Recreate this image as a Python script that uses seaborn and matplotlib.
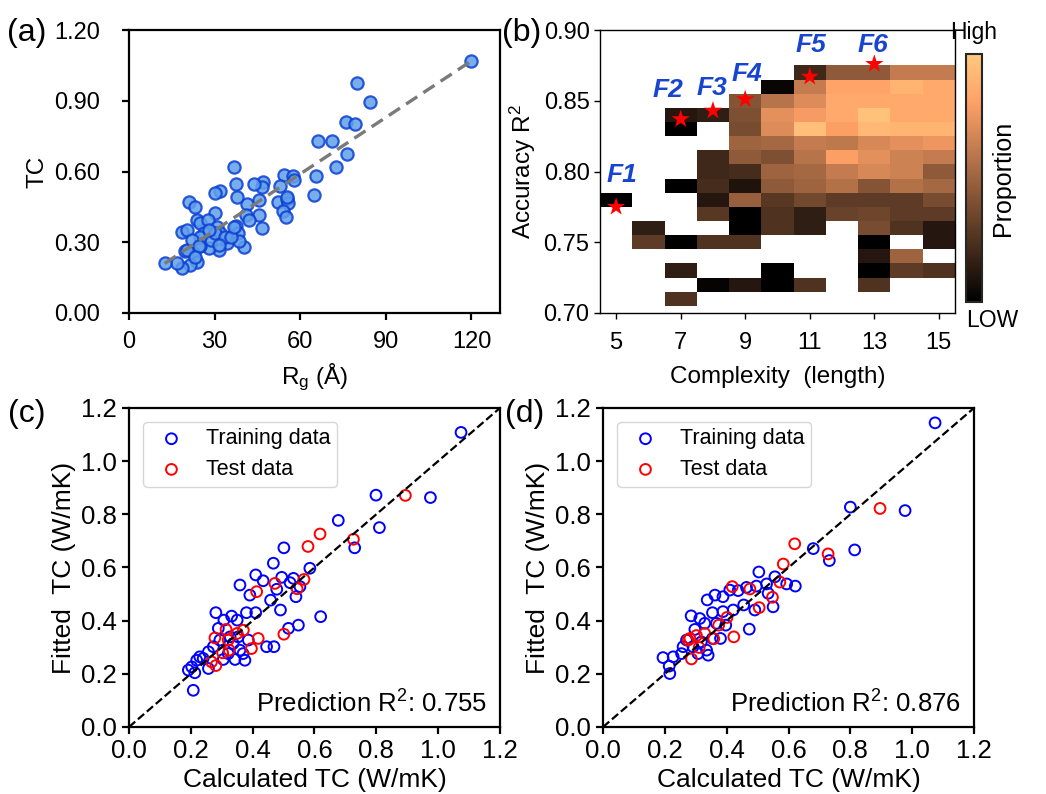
import numpy as np
import pandas as pd
import seaborn as sns
import matplotlib
matplotlib.use("Agg")
import matplotlib.pyplot as plt

sns.set_theme(style="ticks")
plt.rcParams['font.family'] = ['Liberation Sans', 'DejaVu Sans']
plt.rcParams['mathtext.fontset'] = 'custom'
plt.rcParams['mathtext.rm'] = 'Liberation Sans'
plt.rcParams['mathtext.it'] = 'Liberation Sans:italic'
plt.rcParams['text.color'] = 'black'
plt.rcParams['axes.labelcolor'] = 'black'
plt.rcParams['xtick.color'] = 'black'
plt.rcParams['ytick.color'] = 'black'

# (a) TC vs radius of gyration
rg = [119.8, 79.9, 84.3, 76.1, 79.3, 66.2, 71.0, 76.4, 72.6, 65.6, 65.0, 54.2, 57.6, 57.8,
      52.9, 52.3, 55.5, 55.7, 54.1, 54.9, 55.5, 46.8, 46.5, 43.8, 45.5, 45.7, 46.7, 41.4,
      41.0, 41.9, 40.2, 36.7, 37.4, 38.0, 37.5, 38.2, 38.5, 32.0, 30.0, 30.0, 20.9, 23.2,
      18.5, 20.3, 23.8, 25.0, 27.8, 30.8, 32.0, 34.4, 31.4, 27.9, 25.0, 22.6, 19.7, 23.8,
      21.5, 18.5, 16.8, 12.7, 20.3, 26.3, 28.6, 25.0, 22.0, 30.0, 33.5, 35.8, 27.9, 24.4,
      23.2, 36.7, 31.4]
tc = [1.069, 0.975, 0.896, 0.81, 0.80, 0.731, 0.728, 0.676, 0.62, 0.58, 0.499, 0.586, 0.582,
      0.563, 0.539, 0.47, 0.483, 0.468, 0.431, 0.408, 0.49, 0.556, 0.535, 0.545, 0.479, 0.414,
      0.359, 0.462, 0.415, 0.394, 0.279, 0.621, 0.546, 0.49, 0.37, 0.338, 0.307, 0.517, 0.507,
      0.425, 0.472, 0.45, 0.345, 0.352, 0.394, 0.38, 0.394, 0.366, 0.338, 0.296, 0.268, 0.275,
      0.282, 0.254, 0.261, 0.218, 0.204, 0.19, 0.211, 0.211, 0.268, 0.338, 0.31, 0.324, 0.31,
      0.338, 0.324, 0.324, 0.352, 0.282, 0.239, 0.366, 0.289]
fit_x = [12.5, 119.5]
fit_y = [0.21, 1.065]

# (b) accuracy vs complexity map
complexity = [5, 6, 7, 8, 9, 10, 11, 12, 13, 14, 15]
accuracy = [0.87, 0.86, 0.85, 0.84, 0.83, 0.82, 0.81, 0.80, 0.79, 0.78, 0.77, 0.76, 0.75,
            0.74, 0.73, 0.72, 0.71]
N = None
proportion = [
    [N, N, N, N, N, N, 0.2, 0.45, 0.45, 0.62, 0.62],
    [N, N, N, N, N, 0.03, 0.62, 0.82, 0.82, 0.9, 0.85],
    [N, N, N, N, 0.42, 0.58, 0.7, 0.85, 0.85, 0.85, 0.85],
    [N, N, 0.12, 0.15, 0.4, 0.72, 0.78, 0.85, 0.97, 0.85, 0.85],
    [N, N, 0.0, N, 0.38, 0.7, 0.95, 0.8, 0.92, 0.9, 0.9],
    [N, N, N, N, 0.5, 0.52, 0.62, 0.6, 0.68, 0.72, 0.75],
    [N, N, N, 0.2, 0.45, 0.4, 0.58, 0.8, 0.72, 0.65, 0.62],
    [N, N, N, 0.2, 0.22, 0.5, 0.52, 0.62, 0.68, 0.65, 0.45],
    [N, N, 0.0, 0.22, 0.1, 0.45, 0.5, 0.57, 0.42, 0.57, 0.52],
    [0.0, N, N, 0.12, 0.48, 0.28, 0.36, 0.3, 0.3, 0.3, 0.38],
    [N, N, N, 0.28, 0.0, 0.25, 0.15, 0.33, 0.35, 0.3, 0.3],
    [N, 0.15, N, N, 0.0, 0.25, 0.15, N, 0.38, 0.25, 0.12],
    [N, 0.3, 0.0, 0.25, 0.25, N, N, N, 0.0, N, 0.12],
    [N, N, N, N, N, N, N, N, 0.12, 0.5, N],
    [N, N, 0.15, N, N, 0.0, N, N, 0.0, 0.3, 0.25],
    [N, N, N, 0.02, 0.12, 0.0, 0.25, N, 0.25, N, N],
    [N, N, 0.25, N, N, N, N, N, N, N, N],
]
front_names = ["F1", "F2", "F3", "F4", "F5", "F6"]
front_len = [5, 7, 8, 9, 11, 13]
front_r2 = [0.775, 0.837, 0.843, 0.851, 0.867, 0.876]
front_offsets = [(4, 23), (-9, 21), (-1, 16), (1, 18), (1, 23), (-1, 14)]

# (c) first model
c_train_x = [1.074, 0.799, 0.975, 0.677, 0.81, 0.501, 0.73, 0.467, 0.585, 0.41, 0.434, 0.359,
             0.494, 0.532, 0.521, 0.553, 0.478, 0.391, 0.54, 0.458, 0.49, 0.62, 0.41, 0.38,
             0.281, 0.332, 0.35, 0.307, 0.289, 0.516, 0.548, 0.445, 0.469, 0.386, 0.359,
             0.337, 0.321, 0.343, 0.375, 0.305, 0.273, 0.257, 0.24, 0.257, 0.219, 0.192,
             0.213, 0.203, 0.208, 0.327, 0.353, 0.369, 0.294, 0.229]
c_train_y = [1.108, 0.872, 0.863, 0.777, 0.75, 0.674, 0.674, 0.616, 0.597, 0.572, 0.55, 0.534,
             0.563, 0.559, 0.543, 0.528, 0.518, 0.496, 0.49, 0.477, 0.44, 0.415, 0.43, 0.43,
             0.43, 0.417, 0.402, 0.402, 0.371, 0.371, 0.383, 0.302, 0.302, 0.327, 0.289,
             0.314, 0.276, 0.254, 0.251, 0.254, 0.302, 0.283, 0.258, 0.22, 0.251, 0.214,
             0.204, 0.226, 0.138, 0.339, 0.339, 0.276, 0.327, 0.264]
c_test_x = [0.894, 0.726, 0.618, 0.579, 0.472, 0.566, 0.544, 0.413, 0.501, 0.37, 0.314, 0.35,
            0.278, 0.418, 0.396, 0.321, 0.303, 0.324, 0.267, 0.281]
c_test_y = [0.871, 0.706, 0.726, 0.679, 0.54, 0.555, 0.52, 0.509, 0.349, 0.364, 0.367, 0.352,
            0.335, 0.333, 0.295, 0.327, 0.279, 0.289, 0.245, 0.231]
c_r2 = 0.755

# (d) second model
d_train_x = [1.074, 0.80, 0.977, 0.814, 0.68, 0.732, 0.504, 0.556, 0.622, 0.594, 0.529, 0.496,
             0.464, 0.437, 0.41, 0.362, 0.388, 0.337, 0.534, 0.55, 0.491, 0.455, 0.473, 0.421,
             0.388, 0.354, 0.285, 0.313, 0.397, 0.367, 0.329, 0.297, 0.38, 0.354, 0.318, 0.335,
             0.34, 0.291, 0.259, 0.254, 0.227, 0.194, 0.214, 0.216, 0.27, 0.307]
d_train_y = [1.144, 0.827, 0.814, 0.666, 0.671, 0.626, 0.583, 0.565, 0.53, 0.538, 0.538, 0.53,
             0.525, 0.513, 0.515, 0.496, 0.49, 0.478, 0.503, 0.452, 0.44, 0.459, 0.368, 0.44,
             0.434, 0.43, 0.418, 0.408, 0.383, 0.39, 0.39, 0.367, 0.333, 0.333, 0.32, 0.289,
             0.27, 0.302, 0.302, 0.276, 0.264, 0.261, 0.229, 0.201, 0.327, 0.276]
d_test_x = [0.896, 0.62, 0.728, 0.583, 0.572, 0.418, 0.475, 0.548, 0.505, 0.401, 0.374, 0.423,
            0.358, 0.329, 0.302, 0.281, 0.275, 0.311, 0.286]
d_test_y = [0.822, 0.689, 0.651, 0.613, 0.545, 0.528, 0.519, 0.488, 0.449, 0.412, 0.383, 0.339,
            0.332, 0.352, 0.344, 0.333, 0.327, 0.299, 0.256]
d_r2 = 0.876

fig = plt.figure(figsize=(10.46, 7.94), dpi=100)
ax_a = fig.add_axes([0.1233, 0.6058, 0.3547, 0.3564])
ax_b = fig.add_axes([0.5736, 0.6058, 0.3394, 0.3564])
cax = fig.add_axes([0.9235, 0.6196, 0.0153, 0.3123])
ax_c = fig.add_axes([0.1233, 0.0844, 0.3547, 0.4018])
ax_d = fig.add_axes([0.5765, 0.0844, 0.3547, 0.4018])


def thick_frame(ax, fs):
    for sp in ax.spines.values():
        sp.set_visible(True)
        sp.set_linewidth(1.6)
        sp.set_color("black")
    ax.tick_params(direction="out", length=5, width=1.6, labelsize=fs, colors="black")


# ---- (a)
sns.scatterplot(x=rg, y=tc, ax=ax_a, s=78, color="#62a0ea", edgecolor="#0b3fd4",
                linewidth=1.6, alpha=0.85, zorder=3)
sns.lineplot(x=fit_x, y=fit_y, ax=ax_a, color="#7a7a7a", linewidth=2.4,
             linestyle=(0, (4, 2.2)), zorder=4)
ax_a.set_xlim(0, 130)
ax_a.set_ylim(0, 1.2)
ax_a.set_xticks([0, 30, 60, 90, 120])
ax_a.set_yticks([0, 0.3, 0.6, 0.9, 1.2])
ax_a.set_yticklabels([f"{v:.2f}" for v in [0, 0.3, 0.6, 0.9, 1.2]])
thick_frame(ax_a, 17)
ax_a.tick_params(axis="y", pad=16)
ax_a.tick_params(axis="x", pad=8)
ax_a.set_xlabel(r"R$_\mathrm{g}$ (Å)", fontsize=17.5, labelpad=6)
ax_a.set_ylabel("TC", fontsize=17.5, labelpad=4)

# ---- (b)
grid = np.array([[np.nan if v is None else v for v in row] for row in proportion])
x_edges = np.append(np.array(complexity) - 0.5, complexity[-1] + 0.5)
y_edges = np.append(np.array(accuracy) + 0.005, accuracy[-1] - 0.005)
mesh = ax_b.pcolormesh(x_edges, y_edges, np.ma.masked_invalid(grid), cmap="copper",
                       vmin=0, vmax=1, shading="flat", edgecolors="none")
ax_b.set_xlim(4.5, 15.5)
ax_b.set_ylim(0.70, 0.90)
ax_b.set_xticks([5, 7, 9, 11, 13, 15])
ax_b.set_yticks([0.70, 0.75, 0.80, 0.85, 0.90])
ax_b.set_yticklabels([f"{v:.2f}" for v in [0.70, 0.75, 0.80, 0.85, 0.90]])
for sp in ax_b.spines.values():
    sp.set_visible(True)
    sp.set_linewidth(1.0)
    sp.set_color("black")
ax_b.tick_params(direction="out", length=4, width=1.0, labelsize=17, colors="black")
ax_b.tick_params(axis="x", pad=10)
ax_b.set_xlabel("Complexity  (length)", fontsize=17.5, labelpad=8)
ax_b.set_ylabel(r"Accuracy R$^2$", fontsize=17.5)
sns.scatterplot(x=front_len, y=front_r2, ax=ax_b, marker="*", s=190, color="red",
                edgecolor="none", zorder=5)
for name, fx, fy, off in zip(front_names, front_len, front_r2, front_offsets):
    ax_b.annotate(name, (fx, fy), xytext=off, textcoords="offset points", ha="center",
                  va="center", fontsize=19, fontweight="bold", fontstyle="italic",
                  color="#1745d0")

cb = fig.colorbar(mesh, cax=cax, ticks=[])
cb.outline.set_linewidth(1.5)
cax.text(0.5, 1.04, "High", transform=cax.transAxes, ha="center", va="bottom", fontsize=16.5)
cax.text(0.0, -0.03, "LOW", transform=cax.transAxes, ha="left", va="top", fontsize=16.5)
cax.text(2.3, 0.5, "Proportion", transform=cax.transAxes, ha="center", va="center",
         rotation=90, fontsize=18)


# ---- (c), (d)
def parity(ax, tx, ty, sx, sy, r2):
    sns.scatterplot(x=tx, y=ty, ax=ax, s=60, facecolor="none", edgecolor="blue",
                    linewidth=1.4, label="Training data", zorder=3)
    sns.scatterplot(x=sx, y=sy, ax=ax, s=60, facecolor="none", edgecolor="red",
                    linewidth=1.4, label="Test data", zorder=3)
    ax.axline((0, 0), slope=1, color="black", linestyle="--", linewidth=1.6, zorder=4)
    ax.set_xlim(0, 1.2)
    ax.set_ylim(0, 1.2)
    ticks = [0.0, 0.2, 0.4, 0.6, 0.8, 1.0, 1.2]
    ax.set_xticks(ticks)
    ax.set_yticks(ticks)
    ax.set_xticklabels([f"{t:.1f}" for t in ticks])
    ax.set_yticklabels([f"{t:.1f}" for t in ticks])
    ax.set_xlabel("Calculated TC (W/mK)", fontsize=19)
    ax.set_ylabel("Fitted  TC (W/mK)", fontsize=19)
    thick_frame(ax, 18.5)
    ax.legend(loc="upper left", fontsize=15.5, handletextpad=0.6, borderpad=0.3,
              labelspacing=0.45, frameon=True, bbox_to_anchor=(0.01, 0.99))
    ax.text(0.965, 0.03, f"Prediction R$^2$: {r2:.3f}", transform=ax.transAxes,
            ha="right", va="bottom", fontsize=18.5)


parity(ax_c, c_train_x, c_train_y, c_test_x, c_test_y, c_r2)
parity(ax_d, d_train_x, d_train_y, d_test_x, d_test_y, d_r2)

fig.text(0.007, 0.958, "(a)", fontsize=23, va="center", ha="left")
fig.text(0.480, 0.958, "(b)", fontsize=23, va="center", ha="left")
fig.text(0.008, 0.478, "(c)", fontsize=23, va="center", ha="left")
fig.text(0.483, 0.478, "(d)", fontsize=23, va="center", ha="left")

fig.savefig("out.png", dpi=100)
